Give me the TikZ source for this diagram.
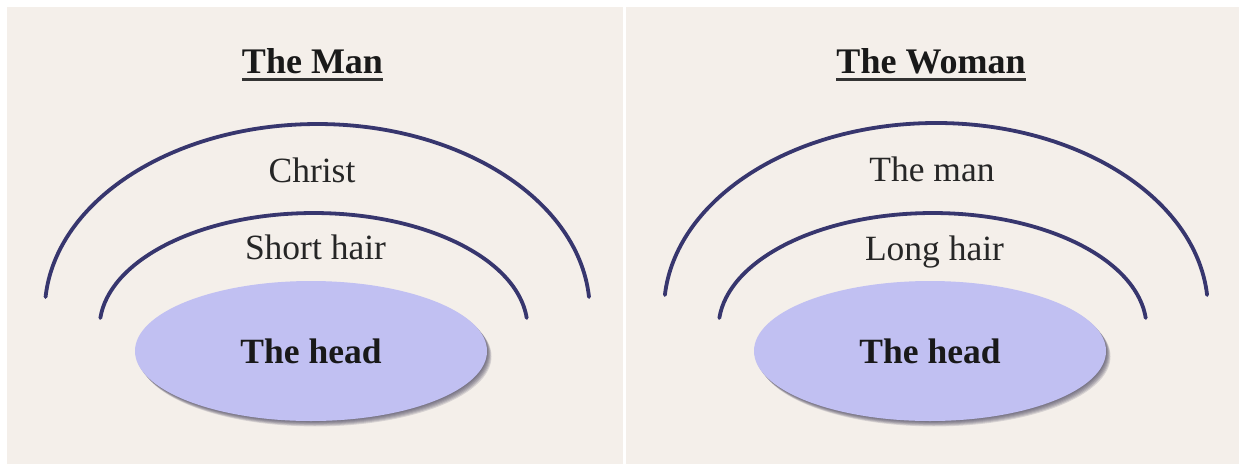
\documentclass[tikz,border=0pt]{standalone}
\usepackage{fontspec}
\setmainfont{Liberation Serif}
\definecolor{paper}{HTML}{F4EFEA}
\definecolor{arcc}{HTML}{37366E}
\definecolor{headfill}{HTML}{C1C0F2}
\definecolor{shadowc}{HTML}{3F3B55}
\tikzset{
  arcline/.style={draw=arcc, line width=3.8pt, line cap=round},
  lbl/.style={anchor=base, inner sep=0pt, font=\fontsize{35.5}{40}\selectfont, text=black!85},
  ttl/.style={anchor=base, inner sep=0pt, font=\fontsize{36}{40}\selectfont\bfseries, text=black!90},
  uline/.style={draw=black!80, line width=2.6pt},
  headnode/.style={ellipse, fill=headfill, minimum width=352pt, minimum height=140pt, inner sep=0pt,
    font=\fontsize{35.5}{40}\selectfont\bfseries, text=black!90},
  shad/.style={fill=shadowc, opacity=0.16}
}
\usetikzlibrary{shapes.geometric}
\begin{document}
\begin{tikzpicture}[x=1pt,y=-1pt]
\useasboundingbox (0,0) rectangle (1239,463);
\fill[white] (0,0) rectangle (1239,463);
\fill[paper] (7,7) rectangle (623,464);
\fill[paper] (626,7) rectangle (1240,464);

% ---- left panel ----
\node[ttl] (t1) at (312.5,73) {The Man};
\draw[uline] ([yshift=-6.5pt]t1.base west) -- ([yshift=-6.5pt]t1.base east);
\draw[arcline] (589,297) arc[start angle=4.3, end angle=175.7, x radius=272.5pt, y radius=187pt];
\draw[arcline] (526.7,318) arc[start angle=5, end angle=175, x radius=214pt, y radius=115pt];
\node[lbl] (l1) at (312,182) {Christ};
\node[lbl] (l2) at (315.5,259) {Short hair};
\foreach \d in {1,2,3,4,5,6}
  \fill[shad] (311+\d*0.75,351+\d*0.9) ellipse [x radius=176pt, y radius=70pt];
\node[headnode] (h1) at (311,351) {The head};

% ---- right panel ----
\node[ttl] (t2) at (931,73) {The Woman};
\draw[uline] ([yshift=-6.5pt]t2.base west) -- ([yshift=-6.5pt]t2.base east);
\draw[arcline] (1207.1,295) arc[start angle=4.6, end angle=175.4, x radius=272pt, y radius=187pt];
\draw[arcline] (1145.7,318) arc[start angle=5, end angle=175, x radius=214pt, y radius=115pt];
\node[lbl] (l3) at (932,181) {The man};
\node[lbl] (l4) at (934.5,260) {Long hair};
\foreach \d in {1,2,3,4,5,6}
  \fill[shad] (930+\d*0.75,351+\d*0.9) ellipse [x radius=176pt, y radius=70pt];
\node[headnode] (h2) at (930,351) {The head};
\end{tikzpicture}
\end{document}
